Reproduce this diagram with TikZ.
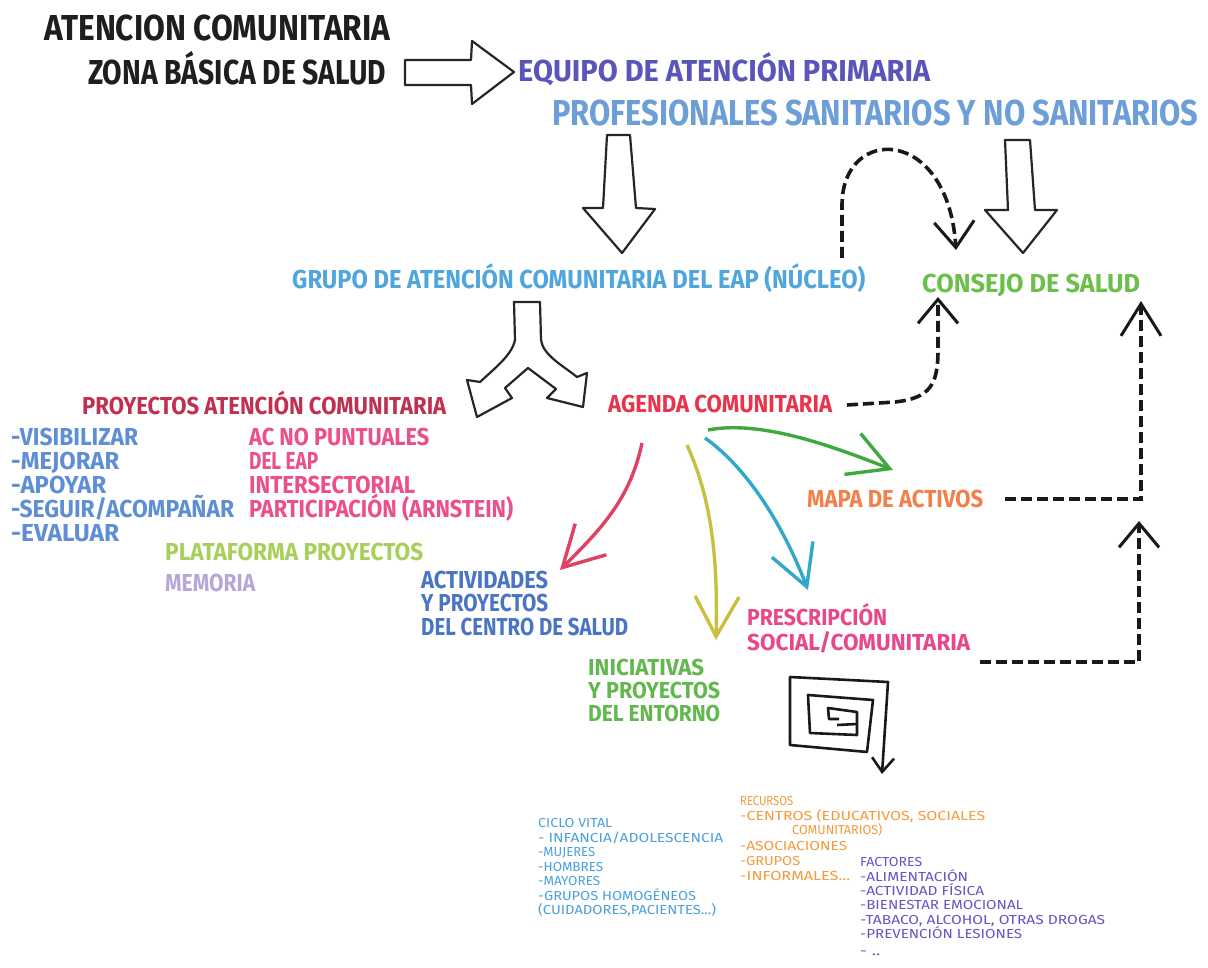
\documentclass[tikz,border=0pt]{standalone}
\usepackage{fontspec}
\setmainfont{Fira Sans}[FakeStretch=0.8]
\usetikzlibrary{arrows.meta}
\definecolor{cTitle}{HTML}{1E1E1E}
\definecolor{cEquipo}{HTML}{5A55B8}
\definecolor{cProf}{HTML}{6E9ED8}
\definecolor{cGrupo}{HTML}{4EA6DC}
\definecolor{cConsejo}{HTML}{6CC04A}
\definecolor{cProy}{HTML}{C0304F}
\definecolor{cAgenda}{HTML}{E8344E}
\definecolor{cList}{HTML}{5E8FD6}
\definecolor{cAc}{HTML}{EC4F8A}
\definecolor{cPlat}{HTML}{A6D05A}
\definecolor{cMem}{HTML}{B8A6D9}
\definecolor{cAct}{HTML}{4A74C4}
\definecolor{cPresc}{HTML}{E8478A}
\definecolor{cInic}{HTML}{62B84E}
\definecolor{cMapa}{HTML}{F2804A}
\definecolor{cCiclo}{HTML}{4AA0DC}
\definecolor{cRec}{HTML}{F59A3A}
\definecolor{cFact}{HTML}{6A52C4}
\definecolor{aRed}{HTML}{E04062}
\definecolor{aYel}{HTML}{C8C040}
\definecolor{aTeal}{HTML}{30A8C8}
\definecolor{aGreen}{HTML}{40A840}
% width, cap height, text
\newcommand\ft[3]{\resizebox{#1pt}{#2pt}{\rule{0pt}{\fontcharht\font`X}\smash{#3}}}
\begin{document}
\begin{tikzpicture}[x=1pt,y=-1pt,
  txt/.style={anchor=west,inner sep=0pt,font=\bfseries},
  sml/.style={anchor=west,inner sep=0pt,font=\mdseries},
  hollow/.style={draw=black!85,line width=2.2pt,fill=white,line join=round},
  dashline/.style={draw=black!90,line width=3.6pt,dash pattern=on 11pt off 5pt},
  dhead/.style={-{Straight Barb[length=#1,width=40pt,line width=3pt]}},
  colarrow/.style={line width=3.4pt,-{Straight Barb[length=40pt,width=44pt]}},
  spiralline/.style={draw=black!90,line width=2.6pt,line join=round}]
\useasboundingbox (0,0) rectangle (1208,968);
\fill[white] (0,0) rectangle (1208,968);

% ---------- top texts ----------
\node[txt,text=cTitle] (t1) at (44,28) {\ft{346}{25}{ATENCION COMUNITARIA}};
\node[txt,text=cTitle] (t2) at (88,73) {\ft{298}{24}{ZONA BÁSICA DE SALUD}};
\node[txt,text=cEquipo] (equipo) at (518,71) {\ft{412}{21}{EQUIPO DE ATENCIÓN PRIMARIA}};
\node[txt,text=cProf] (prof) at (552,113) {\ft{646}{25}{PROFESIONALES SANITARIOS Y NO SANITARIOS}};
\node[txt,text=cGrupo] (grupo) at (292,280) {\ft{573}{18}{GRUPO DE ATENCIÓN COMUNITARIA DEL EAP (NÚCLEO)}};
\node[txt,text=cConsejo] (consejo) at (922,284) {\ft{218}{18}{CONSEJO DE SALUD}};
\node[txt,text=cProy] (proy) at (82,406) {\ft{364}{17}{PROYECTOS ATENCIÓN COMUNITARIA}};
\node[txt,text=cAgenda] (agenda) at (608,404) {\ft{224}{17}{AGENDA COMUNITARIA}};

% ---------- left lists ----------
\node[txt,text=cList] (l1) at (11,437) {\ft{127}{17}{-VISIBILIZAR}};
\node[txt,text=cList] (l2) at (11,461) {\ft{108}{17}{-MEJORAR}};
\node[txt,text=cList] (l3) at (11,485) {\ft{95}{17}{-APOYAR}};
\node[txt,text=cList] (l4) at (11,509) {\ft{223}{17}{-SEGUIR/ACOMPAÑAR}};
\node[txt,text=cList] (l5) at (11,533) {\ft{108}{17}{-EVALUAR}};
\node[txt,text=cAc] (ac1) at (249,437) {\ft{180}{17}{AC NO PUNTUALES}};
\node[txt,text=cAc] (ac2) at (249,461) {\ft{69}{17}{DEL EAP}};
\node[txt,text=cAc] (ac3) at (249,485) {\ft{166}{17}{INTERSECTORIAL}};
\node[txt,text=cAc] (ac4) at (249,509) {\ft{264}{17}{PARTICIPACIÓN (ARNSTEIN)}};
\node[txt,text=cPlat] (plat) at (165,552) {\ft{258}{17}{PLATAFORMA PROYECTOS}};
\node[txt,text=cMem] (mem) at (165,583) {\ft{90}{17}{MEMORIA}};
\node[txt,text=cAct] (act1) at (421,580) {\ft{127}{17}{ACTIVIDADES}};
\node[txt,text=cAct] (act2) at (421,603) {\ft{127}{17}{Y PROYECTOS}};
\node[txt,text=cAct] (act3) at (421,627) {\ft{207}{17}{DEL CENTRO DE SALUD}};

% ---------- right texts ----------
\node[txt,text=cMapa] (mapa) at (807,499) {\ft{176}{17}{MAPA DE ACTIVOS}};
\node[txt,text=cPresc] (pr1) at (747,617) {\ft{140}{16}{PRESCRIPCIÓN}};
\node[txt,text=cPresc] (pr2) at (747,642) {\ft{223}{16}{SOCIAL/COMUNITARIA}};
\node[txt,text=cInic] (in1) at (588,667) {\ft{116}{16}{INICIATIVAS}};
\node[txt,text=cInic] (in2) at (588,690) {\ft{132}{16}{Y PROYECTOS}};
\node[txt,text=cInic] (in3) at (588,713) {\ft{132}{16}{DEL ENTORNO}};

% ---------- bottom lists ----------
\node[sml,text=cCiclo] (c1) at (538,823) {\ft{74}{9}{CICLO VITAL}};
\node[sml,text=cCiclo] (c2) at (538,838) {\ft{185}{9}{- INFANCIA/ADOLESCENCIA}};
\node[sml,text=cCiclo] (c3) at (538,852) {\ft{57}{9}{-MUJERES}};
\node[sml,text=cCiclo] (c4) at (538,867) {\ft{65}{9}{-HOMBRES}};
\node[sml,text=cCiclo] (c5) at (538,881) {\ft{62}{9}{-MAYORES}};
\node[sml,text=cCiclo] (c6) at (538,896) {\ft{158}{9}{-GRUPOS HOMOGÉNEOS}};
\node[sml,text=cCiclo] (c7) at (538,910) {\ft{178}{9}{(CUIDADORES,PACIENTES...)}};

\node[sml,text=cRec] (r1) at (740,801) {\ft{53}{9}{RECURSOS}};
\node[sml,text=cRec] (r2) at (740,816) {\ft{245}{9}{-CENTROS (EDUCATIVOS, SOCIALES}};
\node[sml,text=cRec] (r3) at (792,830) {\ft{90}{9}{COMUNITARIOS)}};
\node[sml,text=cRec] (r4) at (740,846) {\ft{107}{9}{-ASOCIACIONES}};
\node[sml,text=cRec] (r5) at (740,861) {\ft{60}{9}{-GRUPOS}};
\node[sml,text=cRec] (r6) at (740,876) {\ft{110}{9}{-INFORMALES...}};

\node[sml,text=cFact] (f1) at (860,862) {\ft{62}{9}{FACTORES}};
\node[sml,text=cFact] (f2) at (860,877) {\ft{108}{9}{-ALIMENTACIÓN}};
\node[sml,text=cFact] (f3) at (860,891) {\ft{124}{9}{-ACTIVIDAD FÍSICA}};
\node[sml,text=cFact] (f4) at (860,905) {\ft{163}{9}{-BIENESTAR EMOCIONAL}};
\node[sml,text=cFact] (f5) at (860,920) {\ft{245}{9}{-TABACO, ALCOHOL, OTRAS DROGAS}};
\node[sml,text=cFact] (f6) at (860,934) {\ft{162}{9}{-PREVENCIÓN LESIONES}};
\node[sml,text=cFact] (f7) at (860,951) {\ft{20}{9}{- ..}};

% ---------- hollow arrows ----------
\draw[hollow] (405,60) -- (471,60) -- (472,41) -- (514,72) -- (472,104) -- (471,85) -- (405,85) -- cycle;
\draw[hollow] (607,135) -- (630,135) -- (636,208) -- (655,209) -- (622,253) -- (583,208) -- (603,208) -- cycle;
\draw[hollow] (1005,140) -- (1030,140) -- (1035,210) -- (1057,210) -- (1023,253) -- (985,210) -- (1008,210) -- cycle;
\draw[hollow] (514,302) -- (540,302) -- (541,340)
  .. controls (543,355) and (562,365) .. (577,377) -- (587,373) -- (583,407) -- (547,398)
  -- (556,389) -- (528,368) -- (505,388) -- (512,398) -- (477,417) -- (467,380) -- (480,382)
  .. controls (495,368) and (512,355) .. (515,340) -- cycle;

% ---------- dashed connectors ----------
\coordinate (gE) at (842,258);
\coordinate (cT) at (956,250);
\draw[dashline,dhead=26pt] (gE) -- (842,205) .. controls (842,125) and (948,125) .. (cT);
\coordinate (aE) at (847,405);
\coordinate (cB) at (938,297);
\draw[dashline,dhead=24pt] (aE) -- (895,402) .. controls (930,398) and (938,385) .. (938,350) -- (cB);
\coordinate (mE) at (1005,499);
\coordinate (cR) at (1141,301);
\draw[dashline,dhead=32pt] (mE) -- (1141,499) -- (cR);
\coordinate (pE) at (980,662);
\coordinate (cR2) at (1139,521);
\draw[dashline,dhead=24pt] (pE) -- (1139,662) -- (cR2);

% ---------- coloured arrows ----------
\coordinate (ar1) at (642,443); \coordinate (ae1) at (560,570);
\draw[colarrow,aRed] (ar1) .. controls (630,500) and (600,530) .. (ae1);
\coordinate (ar2) at (687,445); \coordinate (ae2) at (716,640);
\draw[colarrow,aYel] (ar2) .. controls (712,500) and (718,560) .. (ae2);
\coordinate (ar3) at (705,438); \coordinate (ae3) at (808,590);
\draw[colarrow,aTeal] (ar3) .. controls (750,470) and (785,530) .. (ae3);
\coordinate (ar4) at (708,430); \coordinate (ae4) at (893,470);
\draw[colarrow,aGreen] (ar4) .. controls (760,420) and (830,445) .. (ae4);

% ---------- spiral ----------
\draw[spiralline,-{Straight Barb[length=14pt,width=22pt]}] (839,719) -- (829,719) -- (828,708) -- (857,712) -- (857,735) -- (810,733) -- (808,695)
  -- (873,700) -- (867,752) -- (790,745) -- (790,677) -- (888,682) -- (882,774);
\draw[spiralline] (837,725) -- (857,724);
\end{tikzpicture}
\end{document}
